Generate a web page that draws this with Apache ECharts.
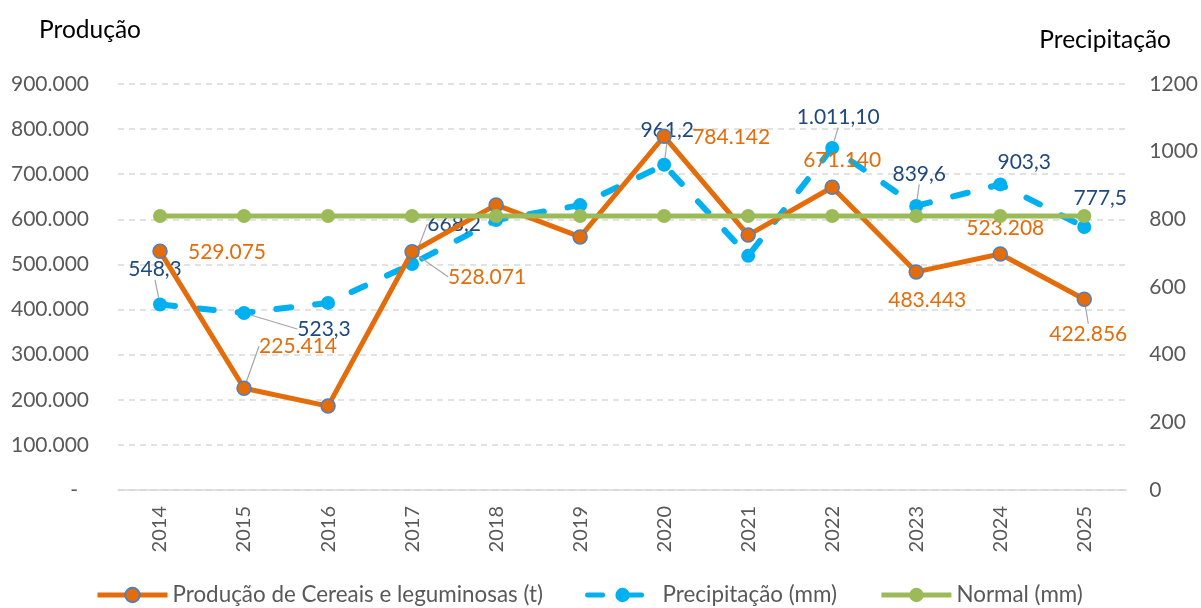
<!DOCTYPE html>
<html>
<head>
<meta charset="utf-8">
<script src="https://cdn.jsdelivr.net/npm/echarts@6/dist/echarts.min.js"></script>
<style>
  html, body { margin: 0; padding: 0; background: #fff; }
  #chart { width: 1201px; height: 608px; }
</style>
</head>
<body>
<div id="chart"></div>
<script>
// dados
const years = ['2014', '2015', '2016', '2017', '2018', '2019', '2020', '2021', '2022', '2023', '2024', '2025']
const producao = [529075, 225414, 186000, 528071, 632000, 561000, 784142, 565000, 671140, 483443, 523208, 422856]
const precipitacao = [548.3, 523.3, 553, 668.2, 798, 842, 961.2, 692, 1011.1, 839.6, 903.3, 777.5]
const normal = [810, 810, 810, 810, 810, 810, 810, 810, 810, 810, 810, 810]
const leftTicks = [0, 100000, 200000, 300000, 400000, 500000, 600000, 700000, 800000, 900000]
const rightTicks = [0, 200, 400, 600, 800, 1000, 1200]

// anos com rótulo
const labeled = [0, 1, 3, 6, 8, 9, 10, 11]

// deslocamento dos rótulos (px) em relação ao ponto
const prodOffsets = { 0: [67, 1], 1: [54, -42], 3: [75, 25], 6: [67, 1], 8: [10, -27], 9: [11, 28], 10: [5, -26], 11: [4, 35] }
const precOffsets = { 0: [-5, -35], 1: [80, 16], 3: [42, -40], 6: [3, -35], 8: [6, -31], 9: [3, -32], 10: [24, -22], 11: [16, -29] }
const prodLeader = [1, 3, 11]
const precLeader = [0, 1, 3, 6, 8, 9]

const FONT = 'Lato'
const GREY = '#595959'

function milhar(v) {
  return String(Math.round(v)).replace(/\B(?=(\d{3})+(?!\d))/g, '.')
}

function formatPrec(v) {
  const dec = v >= 1000 ? 2 : 1
  const parts = v.toFixed(dec).split('.')
  return milhar(Number(parts[0])) + ',' + parts[1]
}

const chart = echarts.init(document.getElementById('chart'))

const option = {
  animation: false,
  textStyle: { fontFamily: FONT },
  title: [
    { text: 'Produção', left: 34, top: 13, textStyle: { fontFamily: FONT, fontSize: 24.5, fontWeight: 'normal', color: '#000' } },
    { text: 'Precipitação', right: 25, top: 23, textStyle: { fontFamily: FONT, fontSize: 24.5, fontWeight: 'normal', color: '#000' } },
  ],
  legend: {
    left: 90,
    bottom: -3,
    itemWidth: 70,
    itemHeight: 18,
    itemGap: 42,
    lineStyle: { width: 5 },
    textStyle: { fontFamily: FONT, fontSize: 22.4, color: GREY },
    data: ['Produção de Cereais e leguminosas (t)', 'Precipitação (mm)', 'Normal (mm)'],
  },
  grid: { left: 118, right: 73, top: 84, bottom: 118 },
  xAxis: {
    type: 'category',
    data: years,
    boundaryGap: true,
    axisTick: { show: false },
    axisLine: { lineStyle: { color: '#D9D9D9', width: 1.5 } },
    axisLabel: { rotate: 90, margin: 16, fontSize: 20, color: GREY, fontFamily: FONT },
  },
  yAxis: [
    {
      type: 'value',
      min: leftTicks[0],
      max: leftTicks[leftTicks.length - 1],
      interval: leftTicks[1] - leftTicks[0],
      axisLine: { show: false },
      axisTick: { show: false },
      axisLabel: {
        margin: 29,
        fontSize: 21,
        color: GREY,
        fontFamily: FONT,
        formatter: v => (v === 0 ? '{d|-}' : milhar(v)),
        rich: { d: { fontSize: 21, color: GREY, fontFamily: FONT, padding: [0, 11, 0, 0] } },
      },
      splitLine: { lineStyle: { color: '#D9D9D9', width: 1.5, type: [6, 5] } },
    },
    {
      type: 'value',
      min: rightTicks[0],
      max: rightTicks[rightTicks.length - 1],
      interval: rightTicks[1] - rightTicks[0],
      axisLine: { show: false },
      axisTick: { show: false },
      splitLine: { show: false },
      axisLabel: { margin: 23, fontSize: 21, color: GREY, fontFamily: FONT, formatter: v => String(v) },
    },
  ],
  series: [
    {
      name: 'Produção de Cereais e leguminosas (t)',
      type: 'line',
      yAxisIndex: 0,
      z: 3,
      symbol: 'circle',
      symbolSize: 14,
      lineStyle: { color: '#E46C0A', width: 5 },
      itemStyle: { color: '#E46C0A', borderColor: '#4F81BD', borderWidth: 1.5 },
      label: {
        position: 'inside',
        fontSize: 21,
        fontFamily: FONT,
        color: '#E46C0A',
        formatter: p => milhar(p.value),
      },
      labelLine: { lineStyle: { color: '#A6A6A6', width: 1.2 } },
      labelLayout: p => {
        const o = prodOffsets[p.dataIndex]
        return o ? { dx: o[0], dy: o[1] } : {}
      },
      data: producao.map((v, i) => ({
        value: v,
        label: { show: labeled.includes(i) },
        labelLine: { show: prodLeader.includes(i) },
      })),
    },
    {
      name: 'Precipitação (mm)',
      type: 'line',
      yAxisIndex: 1,
      z: 2,
      symbol: 'circle',
      symbolSize: 14,
      lineStyle: { color: '#00B0F0', width: 6, type: [15, 24], cap: 'round' },
      itemStyle: { color: '#00B0F0' },
      label: {
        position: 'inside',
        fontSize: 21,
        fontFamily: FONT,
        color: '#1F497D',
        formatter: p => formatPrec(p.value),
      },
      labelLine: { lineStyle: { color: '#A6A6A6', width: 1.2 } },
      labelLayout: p => {
        const o = precOffsets[p.dataIndex]
        return o ? { dx: o[0], dy: o[1] } : {}
      },
      data: precipitacao.map((v, i) => ({
        value: v,
        label: { show: labeled.includes(i) },
        labelLine: { show: precLeader.includes(i) },
      })),
    },
    {
      name: 'Normal (mm)',
      type: 'line',
      yAxisIndex: 1,
      z: 4,
      symbol: 'circle',
      symbolSize: 14,
      lineStyle: { color: '#9BBB59', width: 5 },
      itemStyle: { color: '#9BBB59' },
      data: normal,
    },
  ],
}

chart.setOption(option)
</script>
</body>
</html>
